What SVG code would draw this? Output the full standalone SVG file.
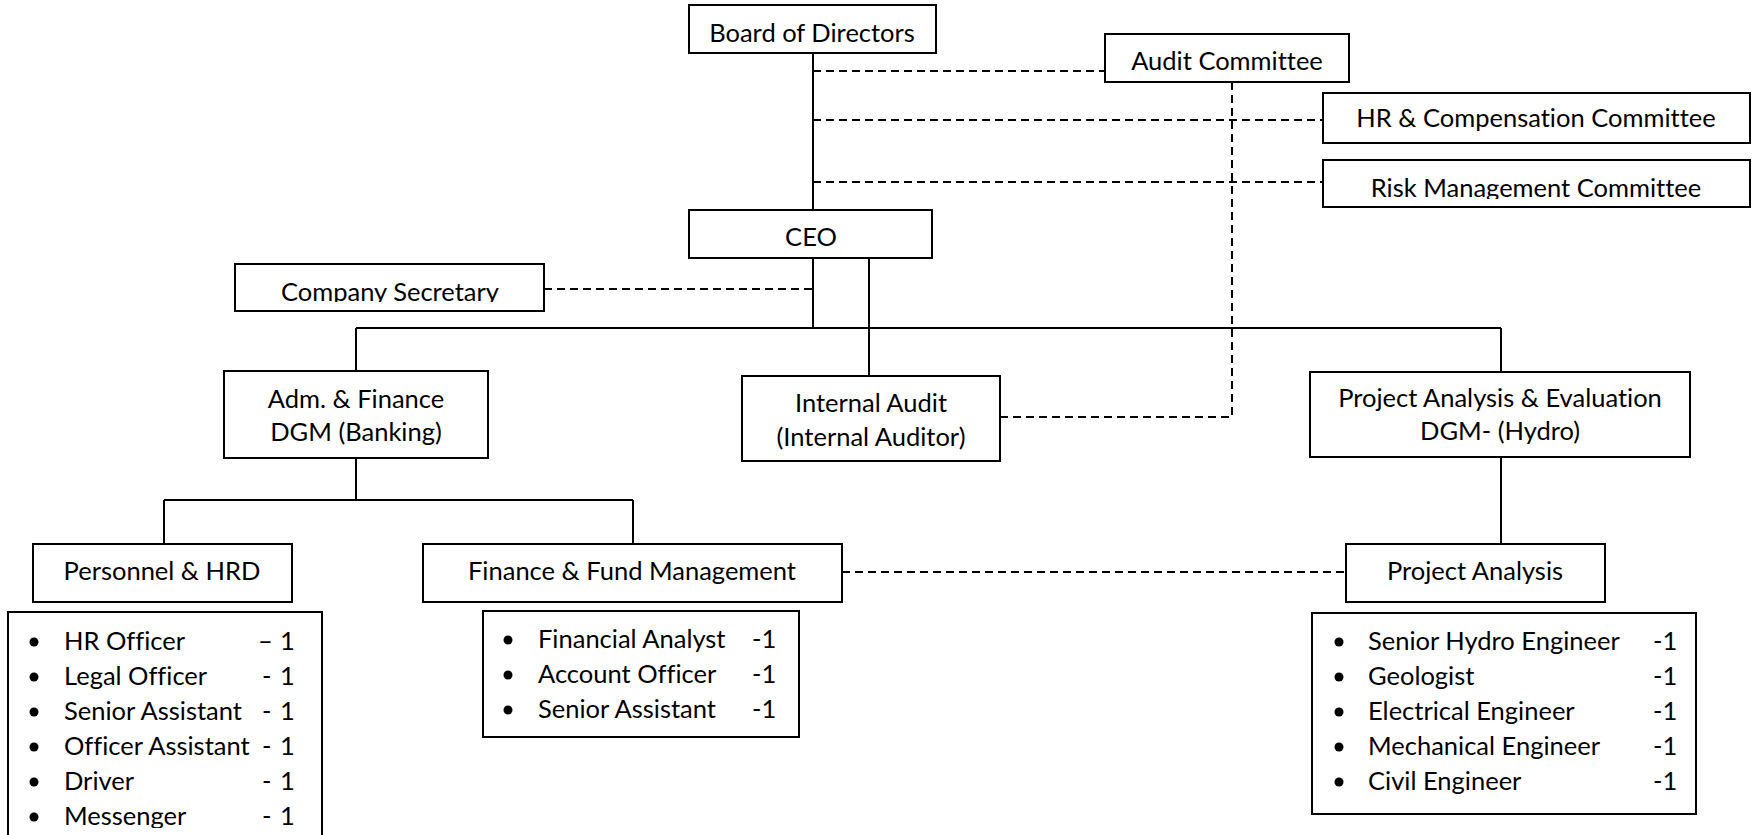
<svg xmlns="http://www.w3.org/2000/svg" width="1754" height="835" viewBox="0 0 1754 835">
<style>
.box{fill:#fff;stroke:#000;stroke-width:2}
.solid{stroke:#000;stroke-width:2;fill:none}
.dash{stroke:#000;stroke-width:2;fill:none;stroke-dasharray:8 5}
text{font-family:Lato,"Open Sans","Liberation Sans",sans-serif;font-size:25.5px;fill:#000;font-variant-ligatures:none}
.c{text-anchor:middle}
.b{fill:#000}
</style>
<defs>
<clipPath id="clipRisk"><rect x="1323" y="160" width="427" height="39"/></clipPath>
<clipPath id="clipSec"><rect x="235" y="264" width="309" height="38"/></clipPath>
<clipPath id="clipPers"><rect x="0" y="612" width="330" height="216"/></clipPath>
</defs>
<rect width="1754" height="835" fill="#fff"/>
<g id="connectors">
<path class="solid" d="M813 53V210M813 258V328M869 258V376M356 328H1501M356 328V371M1501 328V372M356 458V500M164 500H633M164 500V544M633 500V544M1501 457V544"/>
<path class="dash" d="M813 71H1105M813 120H1323M813 182H1323M1232 82V417H1000M544 289H813M842 572H1346"/>
</g>
<g id="board"><rect class="box" x="689" y="5" width="247" height="48"/><text class="c" x="812" y="42">Board of Directors</text></g>
<g id="audit-committee"><rect class="box" x="1105" y="34" width="244" height="48"/><text class="c" x="1227" y="70">Audit Committee</text></g>
<g id="hr-committee"><rect class="box" x="1323" y="93" width="427" height="50"/><text class="c" x="1536" y="127">HR &amp; Compensation Committee</text></g>
<g id="risk-committee"><rect class="box" x="1323" y="160" width="427" height="47"/><text class="c" x="1536" y="197" clip-path="url(#clipRisk)">Risk Management Committee</text></g>
<g id="ceo"><rect class="box" x="689" y="210" width="243" height="48"/><text class="c" x="811" y="246">CEO</text></g>
<g id="company-secretary"><rect class="box" x="235" y="264" width="309" height="47"/><text class="c" x="390" y="301" clip-path="url(#clipSec)">Company Secretary</text></g>
<g id="adm-finance"><rect class="box" x="224" y="371" width="264" height="87"/><text class="c" x="356" y="408">Adm. &amp; Finance</text><text class="c" x="356" y="441">DGM (Banking)</text></g>
<g id="internal-audit"><rect class="box" x="742" y="376" width="258" height="85"/><text class="c" x="871" y="412">Internal Audit</text><text class="c" x="871" y="446">(Internal Auditor)</text></g>
<g id="pae"><rect class="box" x="1310" y="372" width="380" height="85"/><text class="c" x="1500" y="407">Project Analysis &amp; Evaluation</text><text class="c" x="1500" y="440">DGM- (Hydro)</text></g>
<g id="personnel"><rect class="box" x="33" y="544" width="259" height="58"/><text class="c" x="162" y="580">Personnel &amp; HRD</text></g>
<g id="finance"><rect class="box" x="423" y="544" width="419" height="58"/><text class="c" x="632" y="580">Finance &amp; Fund Management</text></g>
<g id="project-analysis"><rect class="box" x="1346" y="544" width="259" height="58"/><text class="c" x="1475" y="580">Project Analysis</text></g>
<g id="personnel-list">
<rect class="box" x="8" y="612" width="314" height="240"/>
<g clip-path="url(#clipPers)">
<circle class="b" cx="34" cy="642" r="4.5"/><circle class="b" cx="34" cy="677" r="4.5"/><circle class="b" cx="34" cy="712" r="4.5"/><circle class="b" cx="34" cy="747" r="4.5"/><circle class="b" cx="34" cy="782" r="4.5"/><circle class="b" cx="34" cy="817" r="4.5"/>
<text x="64" y="650">HR Officer</text><text x="258" y="650">–</text><text x="280" y="650">1</text>
<text x="64" y="685">Legal Officer</text><text x="262" y="685">-</text><text x="280" y="685">1</text>
<text x="64" y="720">Senior Assistant</text><text x="262" y="720">-</text><text x="280" y="720">1</text>
<text x="64" y="755">Officer Assistant</text><text x="262" y="755">-</text><text x="280" y="755">1</text>
<text x="64" y="790">Driver</text><text x="262" y="790">-</text><text x="280" y="790">1</text>
<text x="64" y="825">Messenger</text><text x="262" y="825">-</text><text x="280" y="825">1</text>
</g>
</g>
<g id="finance-list">
<rect class="box" x="483" y="611" width="316" height="126"/>
<circle class="b" cx="508" cy="640" r="4.5"/><circle class="b" cx="508" cy="675" r="4.5"/><circle class="b" cx="508" cy="710" r="4.5"/>
<text x="538" y="648">Financial Analyst</text><text x="752" y="648">-1</text>
<text x="538" y="683">Account Officer</text><text x="752" y="683">-1</text>
<text x="538" y="718">Senior Assistant</text><text x="752" y="718">-1</text>
</g>
<g id="project-list">
<rect class="box" x="1312" y="613" width="384" height="201"/>
<circle class="b" cx="1339" cy="642" r="4.5"/><circle class="b" cx="1339" cy="677" r="4.5"/><circle class="b" cx="1339" cy="712" r="4.5"/><circle class="b" cx="1339" cy="747" r="4.5"/><circle class="b" cx="1339" cy="782" r="4.5"/>
<text x="1368" y="650">Senior Hydro Engineer</text><text x="1653" y="650">-1</text>
<text x="1368" y="685">Geologist</text><text x="1653" y="685">-1</text>
<text x="1368" y="720">Electrical Engineer</text><text x="1653" y="720">-1</text>
<text x="1368" y="755">Mechanical Engineer</text><text x="1653" y="755">-1</text>
<text x="1368" y="790">Civil Engineer</text><text x="1653" y="790">-1</text>
</g>
</svg>
